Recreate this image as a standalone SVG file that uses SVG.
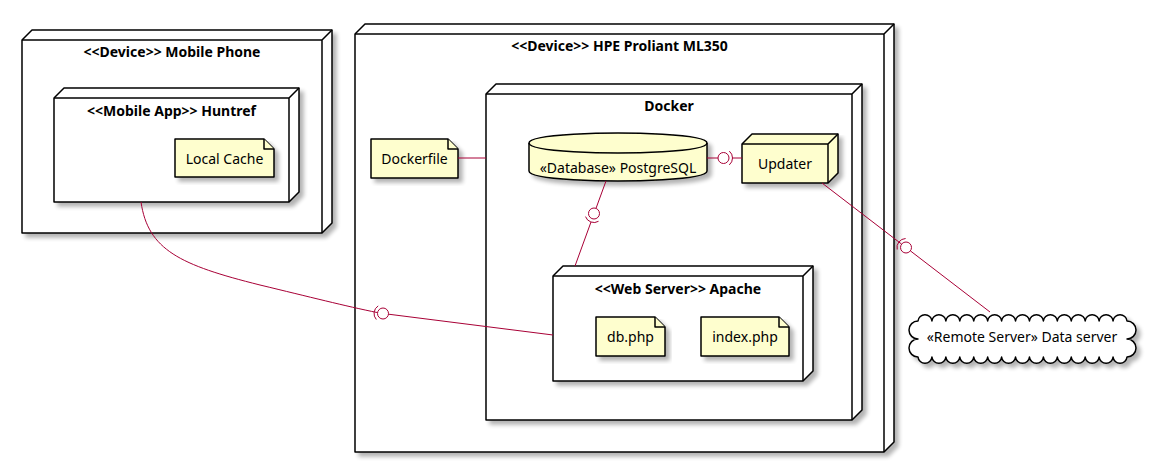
<svg xmlns="http://www.w3.org/2000/svg" width="1149" height="463" viewBox="0 0 1149 463">
<defs>
<filter id="sh" x="-5%" y="-5%" width="115%" height="125%">
<feGaussianBlur in="SourceAlpha" stdDeviation="2"/>
<feOffset dx="4" dy="4" result="o"/>
<feComponentTransfer><feFuncA type="linear" slope="0.3"/></feComponentTransfer>
<feMerge><feMergeNode/><feMergeNode in="SourceGraphic"/></feMerge>
</filter>
</defs>
<style>
.box{fill:#FFFFFF;stroke:#000;stroke-width:1.5;stroke-linejoin:round}
.yel{fill:#FEFECE;stroke:#000;stroke-width:1.5;stroke-linejoin:round}
.ln{fill:none;stroke:#000;stroke-width:1.5}
.t{font-family:"Noto Sans","Open Sans","DejaVu Sans",sans-serif;font-size:14px;fill:#000;text-anchor:middle}
.b{font-weight:bold}
.c{fill:none;stroke:#A80036;stroke-width:1}
</style>
<rect width="1149" height="463" fill="#FFFFFF"/>

<g id="hpe">
<g filter="url(#sh)">
<polygon class="box" points="355,34 365,24 894,24 894,442 884,452 355,452"/>
<path class="ln" d="M355,34 L884,34 L894,24 M884,34 L884,452"/>
</g>
<text class="t b" x="619.5" y="51">&lt;&lt;Device&gt;&gt; HPE Proliant ML350</text>
</g>

<g id="mobile">
<g filter="url(#sh)">
<polygon class="box" points="22,40 32,30 332,30 332,223 322,233 22,233"/>
<path class="ln" d="M22,40 L322,40 L332,30 M322,40 L322,233"/>
</g>
<text class="t b" x="172" y="57">&lt;&lt;Device&gt;&gt; Mobile Phone</text>
</g>

<g id="huntref">
<g filter="url(#sh)">
<polygon class="box" points="54,98 64,88 299,88 299,192 289,202 54,202"/>
<path class="ln" d="M54,98 L289,98 L299,88 M289,98 L289,202"/>
</g>
<text class="t b" x="171.5" y="116">&lt;&lt;Mobile App&gt;&gt; Huntref</text>
</g>

<g id="localcache">
<g filter="url(#sh)">
<path class="yel" d="M175,139 L264,139 L274,149 L274,177 L175,177 Z"/>
<path class="yel" d="M264,139 L264,149 L274,149"/>
</g>
<text class="t" x="224.5" y="164">Local Cache</text>
</g>

<g id="docker">
<g filter="url(#sh)">
<polygon class="box" points="486,94 496,84 862,84 862,410 852,420 486,420"/>
<path class="ln" d="M486,94 L852,94 L862,84 M852,94 L852,420"/>
</g>
<text class="t b" x="669" y="111">Docker</text>
</g>

<g id="dockerfile">
<g filter="url(#sh)">
<path class="yel" d="M371,139 L448,139 L458,149 L458,178 L371,178 Z"/>
<path class="yel" d="M448,139 L448,149 L458,149"/>
</g>
<text class="t" x="414.5" y="164">Dockerfile</text>
</g>

<g id="postgresql">
<g filter="url(#sh)">
<path class="yel" d="M529,143 C529,133 618,133 618,133 C618,133 707,133 707,143 L707,171 C707,181 618,181 618,181 C618,181 529,181 529,171 Z"/>
<path class="ln" d="M529,143 C529,153 618,153 618,153 C618,153 707,153 707,143"/>
</g>
<text class="t" x="618" y="173">«Database» PostgreSQL</text>
</g>

<g id="updater">
<g filter="url(#sh)">
<polygon class="yel" points="742,144 752,134 838,134 838,173 828,183 742,183"/>
<path class="ln" d="M742,144 L828,144 L838,134 M828,144 L828,183"/>
</g>
<text class="t" x="785" y="169">Updater</text>
</g>

<g id="apache">
<g filter="url(#sh)">
<polygon class="box" points="553,276 563,266 813,266 813,371 803,381 553,381"/>
<path class="ln" d="M553,276 L803,276 L813,266 M803,276 L803,381"/>
</g>
<text class="t b" x="678" y="294">&lt;&lt;Web Server&gt;&gt; Apache</text>
</g>

<g id="dbphp">
<g filter="url(#sh)">
<path class="yel" d="M596,317 L655,317 L665,327 L665,356 L596,356 Z"/>
<path class="yel" d="M655,317 L655,327 L665,327"/>
</g>
<text class="t" x="630.5" y="342">db.php</text>
</g>

<g id="indexphp">
<g filter="url(#sh)">
<path class="yel" d="M701,317 L779,317 L789,327 L789,356 L701,356 Z"/>
<path class="yel" d="M779,317 L779,327 L789,327"/>
</g>
<text class="t" x="745" y="342">index.php</text>
</g>

<g id="remote">
<g filter="url(#sh)">
<path class="box" d="M918,321 a7,7 0 0 1 13.933,0 a7,7 0 0 1 13.933,0 a7,7 0 0 1 13.933,0 a7,7 0 0 1 13.933,0 a7,7 0 0 1 13.933,0 a7,7 0 0 1 13.933,0 a7,7 0 0 1 13.933,0 a7,7 0 0 1 13.933,0 a7,7 0 0 1 13.933,0 a7,7 0 0 1 13.933,0 a7,7 0 0 1 13.933,0 a7,7 0 0 1 13.933,0 a7,7 0 0 1 13.933,0 a7,7 0 0 1 13.933,0 a7,7 0 0 1 13.933,0 a9,9 0 0 1 0,18 a9,9 0 0 1 0,18 a7,7 0 0 1 -13.933,0 a7,7 0 0 1 -13.933,0 a7,7 0 0 1 -13.933,0 a7,7 0 0 1 -13.933,0 a7,7 0 0 1 -13.933,0 a7,7 0 0 1 -13.933,0 a7,7 0 0 1 -13.933,0 a7,7 0 0 1 -13.933,0 a7,7 0 0 1 -13.933,0 a7,7 0 0 1 -13.933,0 a7,7 0 0 1 -13.933,0 a7,7 0 0 1 -13.933,0 a7,7 0 0 1 -13.933,0 a7,7 0 0 1 -13.933,0 a7,7 0 0 1 -13.933,0 a9,9 0 0 1 0,-18 a9,9 0 0 1 0,-18 Z"/>
</g>
<text class="t" x="1022" y="342">«Remote Server» Data server</text>
</g>

<g id="connectors">
<path class="c" d="M458,158 L486,158"/>
<path class="c" d="M707,158 L718,158"/>
<circle class="c" cx="723.5" cy="158" r="5.5"/>
<path class="c" d="M729.3,151.1 A9,9 0 0 1 729.3,164.9"/>
<path class="c" d="M732.5,158 L742,158"/>
<path class="c" d="M606,181 L596.1,208.1"/>
<circle class="c" cx="594" cy="213.5" r="5.5"/>
<path class="c" d="M598.5,221.3 A9,9 0 0 1 585.5,216.6"/>
<path class="c" d="M591,222 L575,266"/>
<path class="c" d="M822,183 L901.6,244.1"/>
<path class="c" d="M897.2,249.5 A9,9 0 0 1 905.6,238.5"/>
<circle class="c" cx="906" cy="247.5" r="5.5"/>
<path class="c" d="M910.3,250.8 L990,312"/>
<path class="c" d="M141,202 C148,250 180,265 260,285 C310,297 345,306 377.5,312.6"/>
<path class="c" d="M376.3,319.5 A9,9 0 0 1 378.2,305.9"/>
<circle class="c" cx="383" cy="313.5" r="5.5"/>
<path class="c" d="M388.5,314.2 L553,335"/>
</g>
</svg>
